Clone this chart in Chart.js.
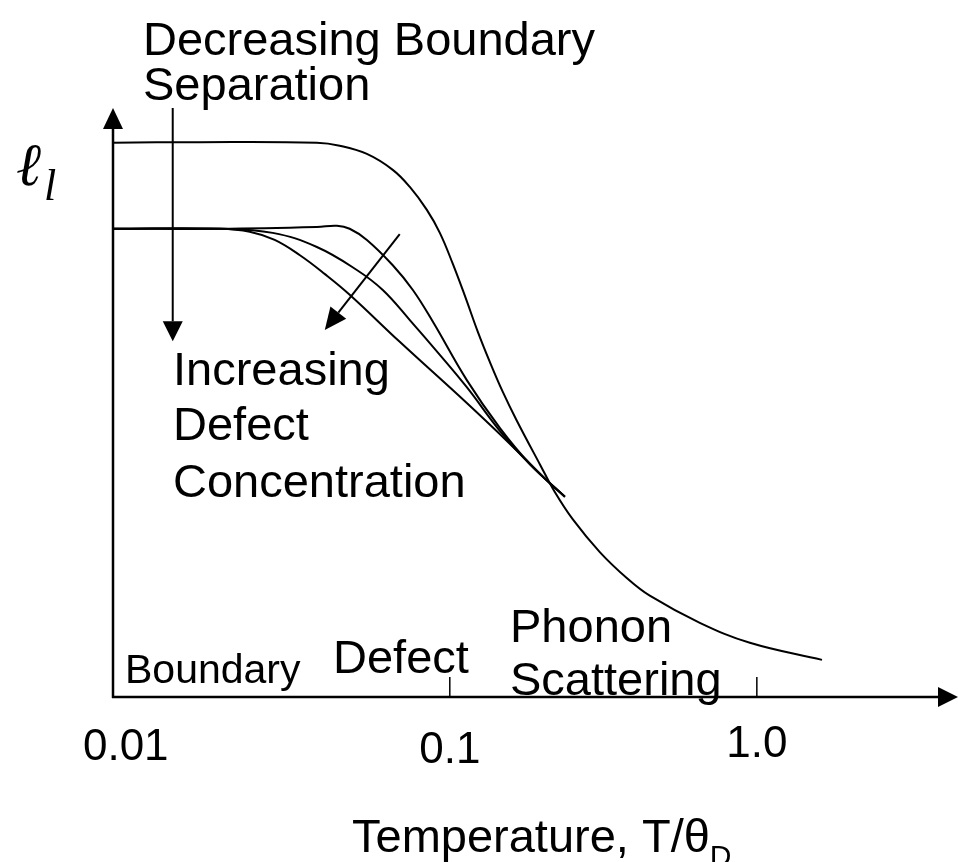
<!DOCTYPE html>
<html>
<head>
<meta charset="utf-8">
<script src="https://cdn.jsdelivr.net/npm/chart.js@4.4.1/dist/chart.umd.min.js"></script>
<style>
  html, body { margin: 0; padding: 0; background: #fff; }
  canvas { display: block; }
</style>
</head>
<body>
<canvas id="mfp-chart" width="958" height="862"></canvas>
<script>
// Mean free path vs reduced temperature (schematic, arbitrary length units)
// Large boundary separation
const tempLarge = [0.008, 0.0153, 0.0369, 0.0438, 0.0537, 0.0652, 0.0741, 0.0842, 0.0928, 0.102, 0.112, 0.1234, 0.135, 0.1488, 0.165, 0.197, 0.2198, 0.252, 0.308, 0.377, 0.448, 0.652, 0.949, 1.63];
const lenLarge  = [9.41, 9.42, 9.41, 9.36, 9.22, 8.95, 8.66, 8.27, 7.88, 7.37, 6.81, 6.20, 5.69, 5.18, 4.70, 3.94, 3.48, 3.01, 2.46, 2.02, 1.72, 1.26, 0.92, 0.63];

// Smaller boundary separation, three defect concentrations
const tempDefLow = [0.008, 0.0178, 0.0369, 0.0429, 0.0472, 0.0537, 0.0652, 0.0758, 0.0881, 0.1136, 0.1455, 0.1822, 0.237];
const lenDefLow  = [7.95, 7.95, 7.98, 8.00, 7.95, 7.76, 7.33, 6.91, 6.37, 5.38, 4.57, 3.96, 3.40];

const tempDefMid = [0.008, 0.0178, 0.0265, 0.0369, 0.0498, 0.0605, 0.0741, 0.0928, 0.1136, 0.1455, 0.1822, 0.237];
const lenDefMid  = [7.95, 7.95, 7.88, 7.64, 7.25, 6.91, 6.40, 5.81, 5.26, 4.52, 3.95, 3.40];

const tempDefHigh = [0.008, 0.0178, 0.0223, 0.0269, 0.0325, 0.0392, 0.0472, 0.0687, 0.1136, 0.1604, 0.2117, 0.237];
const lenDefHigh  = [7.95, 7.95, 7.90, 7.76, 7.50, 7.18, 6.83, 6.03, 4.99, 4.25, 3.63, 3.40];

// Axis ticks
const tickValues = [0.01, 0.1, 1.0];
const tickLabels = ['0.01', '0.1', '1.0'];
const tickMarks  = [0.1, 1.0];

const FONT = '"Liberation Sans", Arial, sans-serif';
const SERIF = '"Liberation Serif", "Times New Roman", serif';

function toPoints(xs, ys) {
    return xs.map((x, i) => ({ x: x, y: ys[i] }));
}

function curve(xs, ys) {
    return {
        data: toPoints(xs, ys),
        showLine: true,
        borderColor: '#000',
        borderWidth: 2,
        pointRadius: 0,
        tension: 0.4,
        fill: false
    };
}

function arrow(ctx, x1, y1, x2, y2, len, half) {
    const ang = Math.atan2(y2 - y1, x2 - x1);
    const bx = x2 - Math.cos(ang) * len;
    const by = y2 - Math.sin(ang) * len;
    ctx.beginPath();
    ctx.moveTo(x1, y1);
    ctx.lineTo(bx, by);
    ctx.stroke();
    ctx.beginPath();
    ctx.moveTo(x2, y2);
    ctx.lineTo(bx + Math.sin(ang) * half, by - Math.cos(ang) * half);
    ctx.lineTo(bx - Math.sin(ang) * half, by + Math.cos(ang) * half);
    ctx.closePath();
    ctx.fill();
}

function text(ctx, str, x, y, size, align) {
    ctx.font = size + 'px ' + FONT;
    ctx.textAlign = align || 'left';
    ctx.textBaseline = 'alphabetic';
    ctx.fillText(str, x, y);
}

const overlay = {
    id: 'overlay',
    afterDraw(chart) {
        const { ctx, chartArea: a, scales } = chart;
        const sx = scales.x, sy = scales.y;
        ctx.save();
        ctx.strokeStyle = '#000';
        ctx.fillStyle = '#000';

        // axes with arrow heads
        ctx.lineWidth = 2.5;
        arrow(ctx, a.left, a.bottom + 1, a.left, a.top, 21, 10);
        arrow(ctx, a.left - 1, a.bottom, a.right, a.bottom, 20, 10);

        // tick marks
        ctx.lineWidth = 1.5;
        tickMarks.forEach(v => {
            const px = sx.getPixelForValue(v);
            ctx.beginPath();
            ctx.moveTo(px, a.bottom);
            ctx.lineTo(px, a.bottom - 20);
            ctx.stroke();
        });

        // annotation arrows (data coordinates)
        ctx.lineWidth = 2;
        arrow(ctx, sx.getPixelForValue(0.01252), sy.getPixelForValue(10.0),
                   sx.getPixelForValue(0.01252), sy.getPixelForValue(6.04), 20, 10);
        arrow(ctx, sx.getPixelForValue(0.0687), sy.getPixelForValue(7.86),
                   sx.getPixelForValue(0.03916), sy.getPixelForValue(6.23), 22, 10);

        // tick labels
        const dx = [-17, 0, 0];
        const dy = [63, 66, 60];
        tickValues.forEach((v, i) => {
            text(ctx, tickLabels[i], sx.getPixelForValue(v) + dx[i], a.bottom + dy[i], 44, 'center');
        });

        // axis title
        text(ctx, 'Temperature, T/\u03B8', 352, 852, 47, 'left');
        ctx.font = '47px ' + FONT;
        const tw = ctx.measureText('Temperature, T/\u03B8').width;
        text(ctx, 'D', 352 + tw, 866, 30, 'left');

        // y axis symbol
        ctx.textAlign = 'left';
        ctx.font = 'italic 60px ' + SERIF;
        ctx.fillText('\u2113', 16, 185);
        ctx.font = 'italic 44px ' + SERIF;
        ctx.fillText('l', 44, 200);

        // annotations
        text(ctx, 'Decreasing Boundary', 143, 55, 47);
        text(ctx, 'Separation', 143, 100, 47);
        text(ctx, 'Increasing', 173, 385, 47);
        text(ctx, 'Defect', 173, 440, 47);
        text(ctx, 'Concentration', 173, 497, 47);
        text(ctx, 'Boundary', 125, 683, 41);
        text(ctx, 'Defect', 333, 673, 47);
        text(ctx, 'Phonon', 510, 642, 47);
        text(ctx, 'Scattering', 510, 695, 47);

        ctx.restore();
    }
};

new Chart(document.getElementById('mfp-chart'), {
    type: 'scatter',
    data: {
        datasets: [
            curve(tempLarge, lenLarge),
            curve(tempDefLow, lenDefLow),
            curve(tempDefMid, lenDefMid),
            curve(tempDefHigh, lenDefHigh)
        ]
    },
    options: {
        responsive: false,
        animation: false,
        layout: { padding: { left: 113, right: 0, top: 108, bottom: 165 } },
        plugins: {
            legend: { display: false },
            tooltip: { enabled: false }
        },
        scales: {
            x: { type: 'logarithmic', min: 0.008, max: 4.52, display: false },
            y: { type: 'linear', min: 0, max: 10, display: false }
        }
    },
    plugins: [overlay]
});
</script>
</body>
</html>
